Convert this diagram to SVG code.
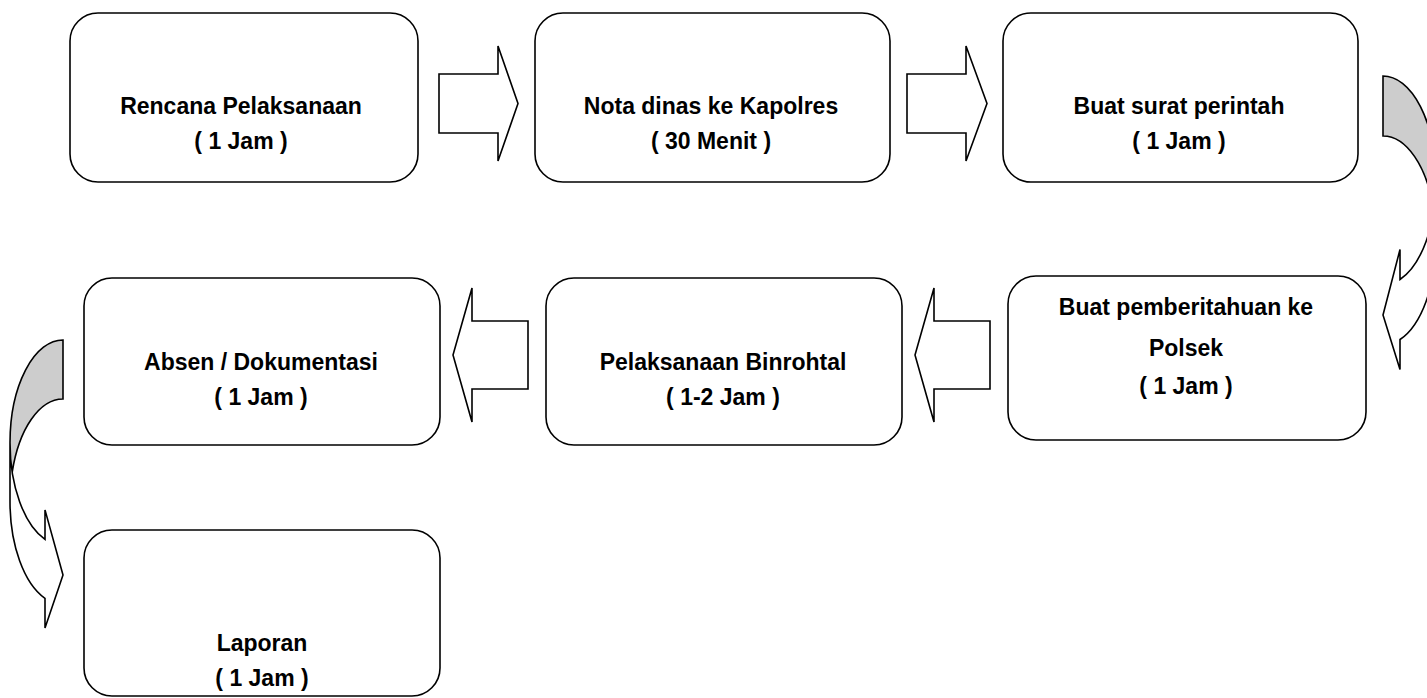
<svg xmlns="http://www.w3.org/2000/svg" width="1427" height="698" viewBox="0 0 1427 698">
  <style>
    .box { fill: #ffffff; stroke: #000000; stroke-width: 1.6; }
    .label { font-family: "Liberation Sans", Arial, sans-serif; font-weight: bold; font-size: 23px; fill: #000000; text-anchor: middle; }
    .block { fill: #ffffff; stroke: #000000; stroke-width: 1.6; stroke-linejoin: miter; }
    .band { fill: #ffffff; stroke: none; }
    .back { fill: #cdcdcd; stroke: none; }
    .edge { fill: none; stroke: #000000; stroke-width: 1.6; stroke-linejoin: miter; }
  </style>

  <rect width="1427" height="698" fill="#ffffff"/>

  <!-- connectors -->
  <g id="connectors">
    <!-- straight block arrows, top row -->
    <path class="block" d="M439,74 H498 V46 L518,103.5 L498,161 V133 H439 Z"/>
    <path class="block" d="M907,74 H966 V46 L987,103.5 L966,161 V133 H907 Z"/>
    <!-- straight block arrows, middle row (pointing left) -->
    <path class="block" d="M528,321 H472 V288 L453,355 L472,422 V389 H528 Z"/>
    <path class="block" d="M990,321 H934 V288 L915,355 L934,422 V389 H990 Z"/>

    <!-- curved arrow on the right, turning down into the middle row -->
    <g id="curve-right">
      <path class="band" d="M1436,180.5 A53,104.5 0 0 1 1400,279.5 L1400,249.5 L1383,315 L1400,369.5 L1400,339.5 A53,104.5 0 0 0 1436,240.5 Z"/>
      <path class="back" d="M1383,76 A53,104.5 0 0 1 1433.8,210.5 A53,104.5 0 0 0 1383,136 Z"/>
      <path class="edge" d="M1436,180.5 A53,104.5 0 0 1 1400,279.5 L1400,249.5 L1383,315 L1400,369.5 L1400,339.5 A53,104.5 0 0 0 1436,240.5 L1436,180.5 A53,104.5 0 0 0 1383,76 L1383,136 A53,104.5 0 0 1 1433.8,210.5"/>
    </g>

    <!-- curved arrow on the left, turning down into the last box -->
    <g id="curve-left">
      <path class="band" d="M10,442.75 A53,102.75 0 0 0 45,539.4 L45,509.9 L63,575 L45,627.9 L45,598.4 A53,102.75 0 0 1 10,501.75 Z"/>
      <path class="back" d="M63,340 A53,102.75 0 0 0 12.2,472.25 A53,102.75 0 0 1 63,399 Z"/>
      <path class="edge" d="M10,442.75 A53,102.75 0 0 0 45,539.4 L45,509.9 L63,575 L45,627.9 L45,598.4 A53,102.75 0 0 1 10,501.75 L10,442.75 A53,102.75 0 0 1 63,340 L63,399 A53,102.75 0 0 0 12.2,472.25"/>
    </g>
  </g>

  <!-- nodes -->
  <g id="rencana">
    <rect class="box" x="70" y="13" width="348" height="169" rx="28" ry="28"/>
    <text class="label" x="241" y="114">Rencana Pelaksanaan</text>
    <text class="label" x="241" y="149">( 1 Jam )</text>
  </g>

  <g id="nota-dinas">
    <rect class="box" x="535" y="13" width="355" height="169" rx="28" ry="28"/>
    <text class="label" x="711" y="114">Nota dinas ke Kapolres</text>
    <text class="label" x="711" y="149">( 30 Menit )</text>
  </g>

  <g id="surat-perintah">
    <rect class="box" x="1003" y="13" width="355" height="169" rx="28" ry="28"/>
    <text class="label" x="1179" y="114">Buat surat perintah</text>
    <text class="label" x="1179" y="149">( 1 Jam )</text>
  </g>

  <g id="pemberitahuan">
    <rect class="box" x="1008" y="276" width="358" height="164" rx="28" ry="28"/>
    <text class="label" x="1186" y="315">Buat pemberitahuan ke</text>
    <text class="label" x="1186" y="356">Polsek</text>
    <text class="label" x="1186" y="394">( 1 Jam )</text>
  </g>

  <g id="binrohtal">
    <rect class="box" x="546" y="278" width="356" height="167" rx="28" ry="28"/>
    <text class="label" x="723" y="370">Pelaksanaan Binrohtal</text>
    <text class="label" x="723" y="405">( 1-2 Jam )</text>
  </g>

  <g id="absen">
    <rect class="box" x="84" y="278" width="356" height="167" rx="28" ry="28"/>
    <text class="label" x="261" y="370">Absen / Dokumentasi</text>
    <text class="label" x="261" y="405">( 1 Jam )</text>
  </g>

  <g id="laporan">
    <rect class="box" x="84" y="530" width="356" height="166" rx="28" ry="28"/>
    <text class="label" x="262" y="651">Laporan</text>
    <text class="label" x="262" y="686">( 1 Jam )</text>
  </g>
</svg>
